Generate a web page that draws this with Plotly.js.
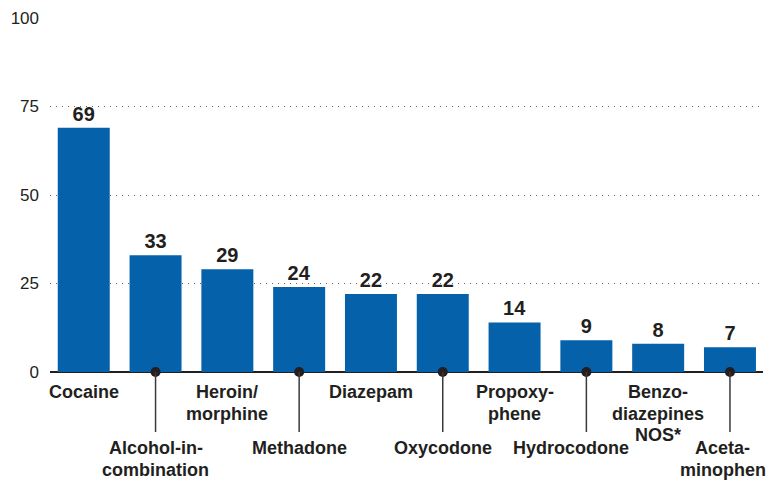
<!DOCTYPE html>
<html><head><meta charset="utf-8">
<script src="https://cdn.plot.ly/plotly-3.0.1.min.js"></script>
<style>body{margin:0;background:#fff}#c{width:770px;height:482px}</style>
</head><body><div id="c"></div>
<script>
const categories = ["Cocaine","Alcohol-in-combination","Heroin/morphine","Methadone","Diazepam","Oxycodone","Propoxyphene","Hydrocodone","Benzodiazepines NOS*","Acetaminophen"];
const tickLabels = ["Cocaine","Alcohol-in-<br>combination","Heroin/<br>morphine","Methadone","Diazepam","Oxycodone","Propoxy-<br>phene","Hydrocodone","Benzo-<br>diazepines<br>NOS*","Aceta-<br>minophen"];
const values = [69,33,29,24,22,22,14,9,8,7];
const yTicks = [0,25,50,75,100];

const dark = "#231f20";
const font = "Liberation Sans, Arial, sans-serif";
const idx = categories.map((_,i)=>i);
const labelShift = {7: -15, 9: -7};

// plot area: y=0 at 372px, y=100 at 18px -> height 354px
const plotH = 354;
const annotations = [];
const shapes = [];
const dotX = [];
idx.forEach(i=>{
  const lower = i % 2 === 1;
  const lines = tickLabels[i].split("<br>");
  const base = lower ? 76 : 20;   // px below axis of first line center
  lines.forEach((ln,k)=>{
    annotations.push({
      x: i, xref: "x", y: -(base + 21.5*k)/plotH, yref: "paper",
      xshift: labelShift[i] || 0,
      yanchor: "middle", xanchor: "center", showarrow: false,
      text: "<b>" + ln + "</b>",
      font: {family: font, size: 18, color: dark}
    });
  });
  if (lower) {
    shapes.push({type: "line", xref: "x", yref: "paper", x0: i, x1: i, y0: 0, y1: -60/plotH,
      line: {color: "#3a3a3a", width: 1.5}});
    dotX.push(i);
  }
});

const traces = [{
  type: "bar", x: idx, y: values, width: 0.724,
  marker: {color: "#0561a9"},
  text: values.map(v => "<b>" + v + "</b>"), textposition: "outside",
  textfont: {family: font, size: 20, color: dark}, cliponaxis: false,
  hoverinfo: "none"
},{
  type: "scatter", mode: "markers", x: dotX, y: dotX.map(()=>0),
  marker: {color: dark, size: 10}, cliponaxis: false, hoverinfo: "none"
}];

const layout = {
  width: 770, height: 482, showlegend: false,
  margin: {l: 50, r: 7, t: 18, b: 110},
  paper_bgcolor: "#fff", plot_bgcolor: "#fff",
  font: {family: font, color: dark},
  xaxis: {range: [-0.47, 9.46], showticklabels: false, ticks: "", showgrid: false,
    zeroline: false, showline: false},
  yaxis: {range: [0, 100], tickvals: yTicks, ticktext: yTicks.map(String),
    tickfont: {family: font, size: 17, color: dark}, ticks: "", ticklabelstandoff: 10,
    showgrid: true, gridcolor: "#666", griddash: "1px,5px", gridwidth: 1,
    zeroline: true, zerolinecolor: dark, zerolinewidth: 2.5, showline: false},
  annotations: annotations, shapes: shapes
};
Plotly.newPlot("c", traces, layout, {displayModeBar: false, staticPlot: true});
</script></body></html>
